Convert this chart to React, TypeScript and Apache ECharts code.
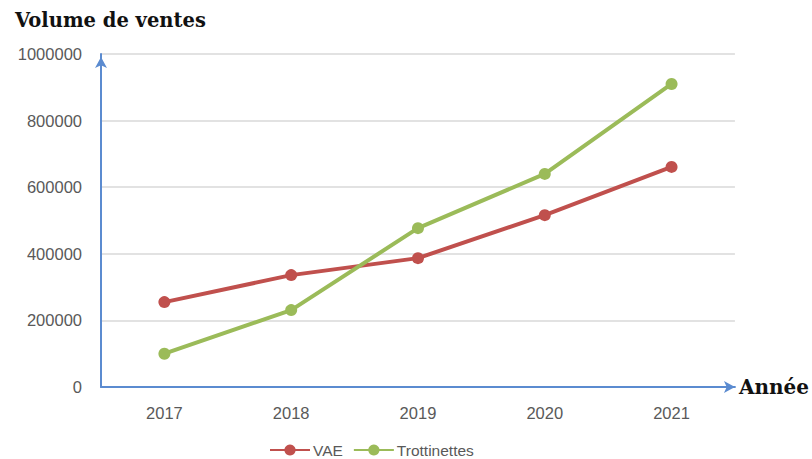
import React, { useEffect, useRef } from "react";
import * as echarts from "echarts";

const years = ["2017", "2018", "2019", "2020", "2021"];
const vae = [255000, 336000, 387000, 516000, 661000];
const trottinettes = [100000, 231000, 477000, 640000, 910000];
const seriesNames = ["VAE", "Trottinettes"];

export default function App() {
  const ref = useRef<HTMLDivElement>(null);
  useEffect(() => {
    if (!ref.current) return;
    const chart = echarts.init(ref.current, null, { renderer: "svg" });
    const axisBlue = "#5B8BD0";
    const labelStyle = { color: "#595959", fontFamily: "Liberation Sans", fontSize: 16.5 };
    chart.setOption({
      animation: false,
      backgroundColor: "#ffffff",
      title: {
        text: "Volume de ventes",
        left: 10,
        top: 5,
        textStyle: { fontFamily: "DejaVu Serif", fontWeight: "bold", fontSize: 19.5, color: "#111" },
      },
      grid: { left: 101, right: 75, top: 54, bottom: 72, containLabel: false },
      legend: {
        data: seriesNames,
        left: 264,
        top: 437,
        itemWidth: 40,
        itemHeight: 14,
        itemGap: 10,
        textStyle: { ...labelStyle, fontSize: 15.5, padding: [0, 0, 0, -2] },
      },
      xAxis: {
        type: "category",
        data: years,
        boundaryGap: true,
        name: "Année",
        nameLocation: "end",
        nameGap: 4,
        nameTextStyle: { fontFamily: "DejaVu Serif", fontWeight: "bold", fontSize: 20, color: "#111", verticalAlign: "middle" },
        axisLine: { show: true, symbol: ["none", "arrow"], symbolSize: [9, 11], lineStyle: { color: axisBlue, width: 2 } },
        axisTick: { show: false },
        axisLabel: { ...labelStyle, margin: 17 },
      },
      yAxis: {
        type: "value",
        min: 0,
        max: 1000000,
        interval: 200000,
        axisLine: { show: true, symbol: ["none", "arrow"], symbolSize: [9, 11], symbolOffset: [0, -3], lineStyle: { color: axisBlue, width: 2 } },
        axisTick: { show: false },
        axisLabel: { ...labelStyle, margin: 19, formatter: (v: number) => String(v) },
        splitLine: { show: true, lineStyle: { color: "#D9D9D9", width: 1.5 } },
      },
      series: [
        {
          name: seriesNames[0],
          type: "line",
          data: vae,
          symbol: "circle",
          symbolSize: 12,
          color: "#C0504D",
          lineStyle: { width: 4, color: "#C0504D" },
          itemStyle: { color: "#C0504D" },
        },
        {
          name: seriesNames[1],
          type: "line",
          data: trottinettes,
          symbol: "circle",
          symbolSize: 12,
          color: "#9BBB59",
          lineStyle: { width: 4, color: "#9BBB59" },
          itemStyle: { color: "#9BBB59" },
        },
      ],
    });
    return () => chart.dispose();
  }, []);
  return <div ref={ref} style={{ width: 812, height: 459, position: "absolute", left: 0, top: 0 }} />;
}
